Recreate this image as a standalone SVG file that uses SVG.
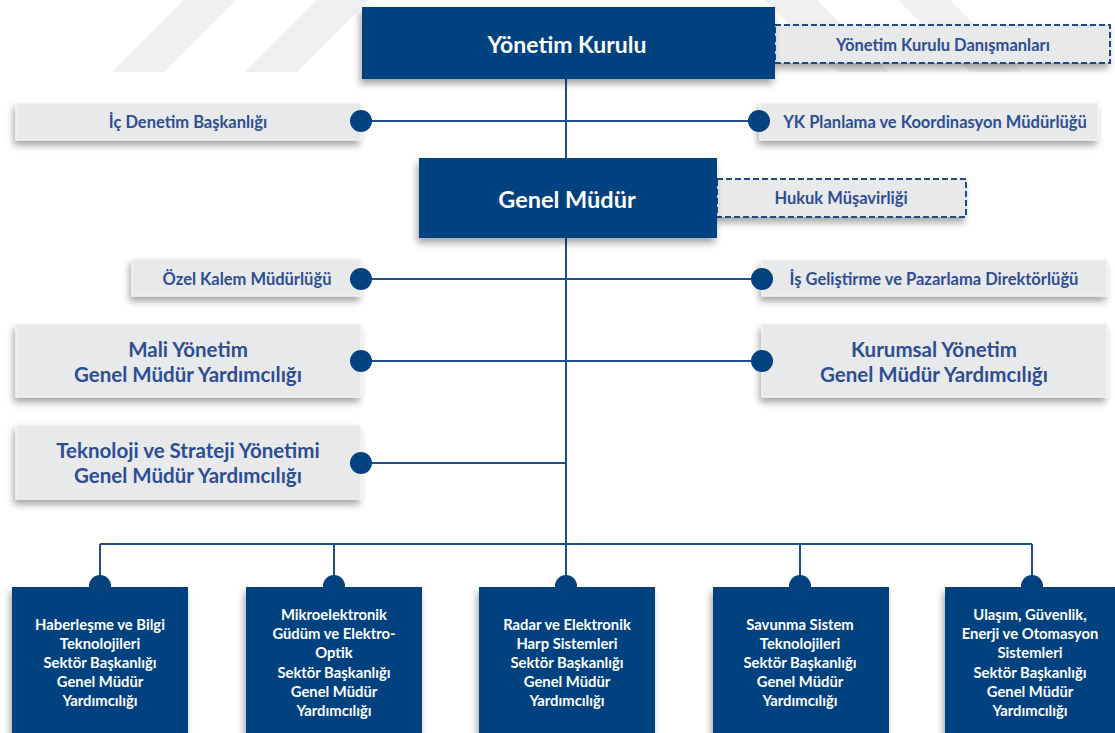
<svg xmlns="http://www.w3.org/2000/svg" width="1115" height="733" viewBox="0 0 1115 733">
<defs>
<filter id="sh" x="-10%" y="-20%" width="120%" height="160%">
<feDropShadow dx="-2" dy="5" stdDeviation="3.5" flood-color="#000" flood-opacity="0.35"/>
</filter>
<style>
.dark{fill:#03427f;filter:url(#sh)}
.gray{fill:#e8e9eb;stroke:#f5f5f5;stroke-width:1;filter:url(#sh)}
.dash{fill:#e8e9eb;stroke:#1f4b86;stroke-width:2;stroke-dasharray:6 3;filter:url(#sh)}
.wm{fill:#f0f0f0}
text{font-family:Lato,"Liberation Sans",sans-serif;font-weight:700;text-anchor:middle;dominant-baseline:central}
.tw{fill:#ffffff}
.tb{fill:#2d4e92}
.big{font-size:23px}
.sm{font-size:16.5px}
.md{font-size:20.5px}
.bt{font-size:14.8px;fill:#ffffff}
.ln{stroke:#1f4e8c;stroke-width:2;fill:none}
.dot{fill:#03427f}
</style>
</defs>
<rect width="1115" height="733" fill="#ffffff"/>
<g id="watermark">
<polygon class="wm" points="112,72 164,72 236,0 184,0"/>
<polygon class="wm" points="245,72 297,72 369,0 317,0"/>
<polygon class="wm" points="1022,72 970,72 898,0 950,0"/>
<polygon class="wm" points="889,72 837,72 765,0 817,0"/>
</g>
<g id="connectors">
<line class="ln" x1="566" y1="78" x2="566" y2="586"/>
<line class="ln" x1="361" y1="121" x2="760" y2="121"/>
<line class="ln" x1="361" y1="279" x2="762" y2="279"/>
<line class="ln" x1="361" y1="361" x2="762" y2="361"/>
<line class="ln" x1="361" y1="463" x2="566" y2="463"/>
<line class="ln" x1="100" y1="544" x2="1032" y2="544"/>
<line class="ln" x1="100" y1="544" x2="100" y2="586"/>
<line class="ln" x1="334" y1="544" x2="334" y2="586"/>
<line class="ln" x1="800" y1="544" x2="800" y2="586"/>
<line class="ln" x1="1032" y1="544" x2="1032" y2="586"/>
</g>
<g id="yonetim-kurulu-danismanlari">
<rect class="dash" x="775" y="25" width="335" height="38"/>
<text class="tb sm" x="943" y="45">Yönetim Kurulu Danışmanları</text>
</g>
<g id="yonetim-kurulu">
<rect class="dark" x="362" y="7" width="413" height="72"/>
<text class="tw big" x="567" y="44">Yönetim Kurulu</text>
</g>
<g id="ic-denetim">
<rect class="gray" x="16" y="103" width="345" height="37"/>
<text class="tb sm" x="188" y="122">İç Denetim Başkanlığı</text>
<circle class="dot" cx="361" cy="121" r="11"/>
</g>
<g id="yk-planlama">
<rect class="gray" x="760" y="103" width="338" height="37"/>
<text class="tb sm" x="935" y="122">YK Planlama ve Koordinasyon Müdürlüğü</text>
<circle class="dot" cx="759" cy="121" r="11"/>
</g>
<g id="hukuk">
<rect class="dash" x="717" y="179" width="249" height="38"/>
<text class="tb sm" x="841" y="198">Hukuk Müşavirliği</text>
</g>
<g id="genel-mudur">
<rect class="dark" x="419" y="158" width="298" height="80"/>
<text class="tw" style="font-size:23.5px" x="567" y="199">Genel Müdür</text>
</g>
<g id="ozel-kalem">
<rect class="gray" x="132" y="259" width="229" height="37"/>
<text class="tb sm" x="247" y="279">Özel Kalem Müdürlüğü</text>
<circle class="dot" cx="361" cy="279" r="11"/>
</g>
<g id="is-gelistirme">
<rect class="gray" x="762" y="260" width="345" height="36"/>
<text class="tb sm" x="934" y="279">İş Geliştirme ve Pazarlama Direktörlüğü</text>
<circle class="dot" cx="762" cy="279" r="11"/>
</g>
<g id="mali-yonetim">
<rect class="gray" x="16" y="324" width="345" height="73"/>
<text class="tb md" x="188" y="349">Mali Yönetim</text>
<text class="tb md" x="188" y="374">Genel Müdür Yardımcılığı</text>
<circle class="dot" cx="361" cy="361" r="11"/>
</g>
<g id="kurumsal-yonetim">
<rect class="gray" x="762" y="324" width="345" height="73"/>
<text class="tb md" x="934" y="349">Kurumsal Yönetim</text>
<text class="tb md" x="934" y="374">Genel Müdür Yardımcılığı</text>
<circle class="dot" cx="762" cy="361" r="11"/>
</g>
<g id="teknoloji-strateji">
<rect class="gray" x="16" y="425" width="345" height="74"/>
<text class="tb md" x="188" y="450">Teknoloji ve Strateji Yönetimi</text>
<text class="tb md" x="188" y="475">Genel Müdür Yardımcılığı</text>
<circle class="dot" cx="361" cy="463" r="11"/>
</g>
<g id="haberlesme">
<rect class="dark" x="12" y="587" width="176" height="160"/>
<circle class="dot" cx="100" cy="586" r="11"/>
<text class="bt" x="100" y="624">Haberleşme ve Bilgi</text>
<text class="bt" x="100" y="643">Teknolojileri</text>
<text class="bt" x="100" y="662">Sektör Başkanlığı</text>
<text class="bt" x="100" y="681">Genel Müdür</text>
<text class="bt" x="100" y="700">Yardımcılığı</text>
</g>
<g id="mikroelektronik">
<rect class="dark" x="246" y="587" width="176" height="160"/>
<circle class="dot" cx="334" cy="586" r="11"/>
<text class="bt" x="334" y="614">Mikroelektronik</text>
<text class="bt" x="334" y="633">Güdüm ve Elektro-</text>
<text class="bt" x="334" y="652">Optik</text>
<text class="bt" x="334" y="672">Sektör Başkanlığı</text>
<text class="bt" x="334" y="691">Genel Müdür</text>
<text class="bt" x="334" y="710">Yardımcılığı</text>
</g>
<g id="radar">
<rect class="dark" x="479" y="587" width="176" height="160"/>
<circle class="dot" cx="566" cy="586" r="11"/>
<text class="bt" x="567" y="624">Radar ve Elektronik</text>
<text class="bt" x="567" y="643">Harp Sistemleri</text>
<text class="bt" x="567" y="662">Sektör Başkanlığı</text>
<text class="bt" x="567" y="681">Genel Müdür</text>
<text class="bt" x="567" y="700">Yardımcılığı</text>
</g>
<g id="savunma">
<rect class="dark" x="713" y="587" width="176" height="160"/>
<circle class="dot" cx="800" cy="586" r="11"/>
<text class="bt" x="800" y="624">Savunma Sistem</text>
<text class="bt" x="800" y="643">Teknolojileri</text>
<text class="bt" x="800" y="662">Sektör Başkanlığı</text>
<text class="bt" x="800" y="681">Genel Müdür</text>
<text class="bt" x="800" y="700">Yardımcılığı</text>
</g>
<g id="ulasim">
<rect class="dark" x="945" y="587" width="170" height="160"/>
<circle class="dot" cx="1032" cy="586" r="11"/>
<text class="bt" x="1030" y="614">Ulaşım, Güvenlik,</text>
<text class="bt" x="1030" y="633">Enerji ve Otomasyon</text>
<text class="bt" x="1030" y="652">Sistemleri</text>
<text class="bt" x="1030" y="672">Sektör Başkanlığı</text>
<text class="bt" x="1030" y="691">Genel Müdür</text>
<text class="bt" x="1030" y="710">Yardımcılığı</text>
</g>
</svg>
